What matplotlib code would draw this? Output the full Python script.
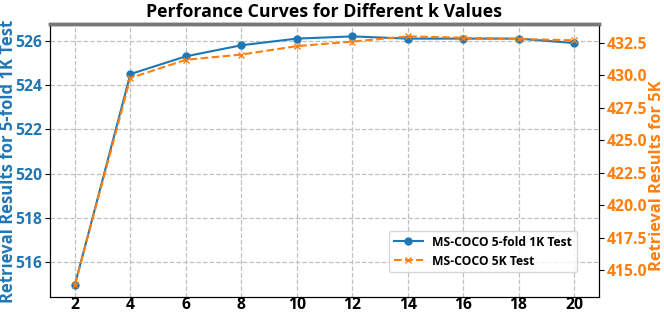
import matplotlib
matplotlib.use("Agg")
import matplotlib.pyplot as plt
from matplotlib.ticker import MultipleLocator, FormatStrFormatter

plt.rcParams['font.family'] = ['Open Sans', 'DejaVu Sans']
plt.rcParams['font.weight'] = 'bold'

# k values and retrieval results
k_values = [2, 4, 6, 8, 10, 12, 14, 16, 18, 20]
fold_1k = [515.0, 524.5, 525.3, 525.8, 526.1, 526.2, 526.1, 526.1, 526.1, 525.9]
test_5k = [413.9, 429.8, 431.2, 431.6, 432.25, 432.6, 433.0, 432.9, 432.8, 432.7]

blue = '#1f77b4'
orange = '#ff7f0e'

fig, ax1 = plt.subplots(figsize=(6.64, 3.14), dpi=100)
fig.subplots_adjust(left=0.0753, right=0.902, top=0.9236, bottom=0.0541)

l1, = ax1.plot(k_values, fold_1k, color=blue, marker='o', markersize=5,
               linewidth=1.5, label='MS-COCO 5-fold 1K Test')
ax1.set_ylabel('Retrieval Results for 5-fold 1K Test', color=blue,
               fontsize=12, fontweight='bold')
ax1.yaxis.set_label_coords(-0.06, 0.495)
ax1.tick_params(axis='y', labelcolor=blue, labelsize=11.3, pad=2)
ax1.tick_params(axis='x', labelsize=11.3, pad=0, length=0)
ax1.set_xticks(k_values)
ax1.grid(True, linestyle='--', color='#c0c0c0', linewidth=0.9)

ax2 = ax1.twinx()
l2, = ax2.plot(k_values, test_5k, color=orange, marker='x', markersize=5,
               linestyle='--', linewidth=1.5, label='MS-COCO 5K Test')
ax2.set_ylabel('Retrieval Results for 5K', color=orange,
               fontsize=11.8, fontweight='bold')
ax2.yaxis.set_label_coords(1.092, 0.443)
ax2.tick_params(axis='y', labelcolor=orange, labelsize=11.3, pad=2)
ax2.yaxis.set_major_locator(MultipleLocator(2.5))
ax2.yaxis.set_major_formatter(FormatStrFormatter('%.1f'))

for a in (ax1, ax2):
    a.spines['top'].set_color('#777777')
    a.spines['top'].set_linewidth(2.5)
    for lab in a.get_yticklabels() + a.get_xticklabels():
        lab.set_fontweight('bold')

ax1.set_title('Perforance Curves for Different k Values', fontsize=12.8,
              fontweight='bold', pad=5)
ax2.legend([l1, l2], [l1.get_label(), l2.get_label()], loc='lower right',
           bbox_to_anchor=(0.96, 0.09), borderaxespad=0, handlelength=2.4,
           prop={'weight': 'bold', 'size': 8.7})

fig.savefig('out.png', dpi=100)
